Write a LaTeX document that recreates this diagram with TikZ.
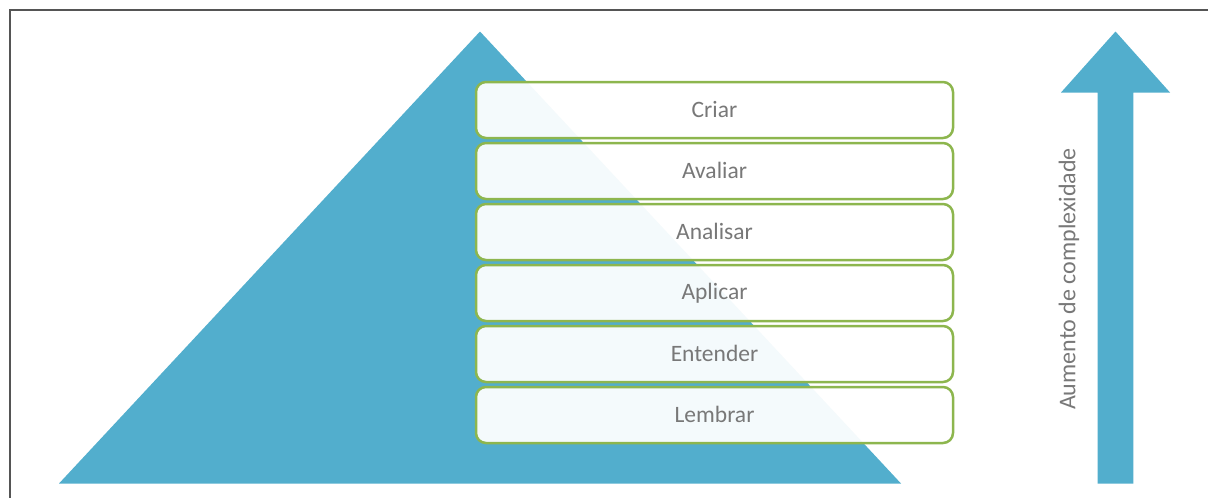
\documentclass[tikz,border=0pt]{standalone}
\usepackage{fontspec}
\setmainfont{Carlito}
\definecolor{pyrblue}{RGB}{82,174,205}
\definecolor{boxgreen}{RGB}{141,182,78}
\definecolor{txtgray}{RGB}{120,120,120}
\definecolor{framegray}{RGB}{85,85,85}
\tikzset{
  levelbox/.style={draw=boxgreen, line width=2.5pt, rounded corners=10pt,
    fill=white, fill opacity=0.94, text opacity=1, text=txtgray,
    minimum width=477pt, minimum height=56pt, inner sep=0pt,
    font=\fontsize{23.5}{28}\selectfont},
  sidelabel/.style={text=txtgray, font=\fontsize{24}{28}\selectfont, rotate=90, inner sep=0pt}
}
\begin{document}
\begin{tikzpicture}[x=1pt,y=-1pt]
\useasboundingbox (0,0) rectangle (1208,498);
% frame
\draw[framegray, line width=2pt] (9.5,498) -- (9.5,9.5) -- (1208,9.5);
% pyramid
\fill[pyrblue] (480,31.5) -- (59,483.5) -- (901,483.5) -- cycle;
% arrow
\fill[pyrblue] (1115.5,31.5) -- (1170,92.5) -- (1133.3,92.5) -- (1133.3,483.5)
  -- (1097.5,483.5) -- (1097.5,92.5) -- (1061,92.5) -- cycle;
\node[sidelabel] (lbl) at (1069,279) {Aumento de complexidade};
% level boxes
\node[levelbox] (criar)    at (714.5,110) {\raisebox{1.5pt}{Criar}};
\node[levelbox] (avaliar)  at (714.5,171) {\raisebox{1.5pt}{Avaliar}};
\node[levelbox] (analisar) at (714.5,232) {\raisebox{1.5pt}{Analisar}};
\node[levelbox] (aplicar)  at (714.5,293) {\raisebox{1.5pt}{Aplicar}};
\node[levelbox] (entender) at (714.5,354) {\raisebox{1.5pt}{Entender}};
\node[levelbox] (lembrar)  at (714.5,415) {\raisebox{1.5pt}{Lembrar}};
\end{tikzpicture}
\end{document}
